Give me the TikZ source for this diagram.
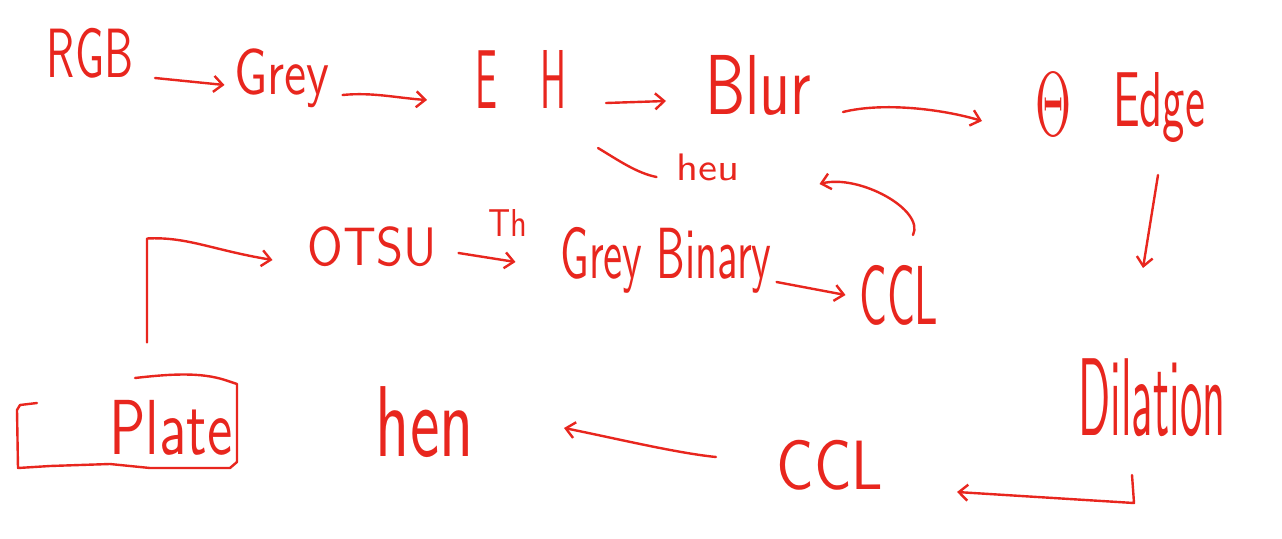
\documentclass[tikz,border=0pt]{standalone}
\usetikzlibrary{arrows.meta,calc}
\definecolor{pen}{RGB}{232,38,30}
\newcommand{\hw}[3]{\resizebox*{#1pt}{#2pt}{\sffamily #3}}
\begin{document}
\begin{tikzpicture}[x=1pt,y=-1pt,
  lbl/.style={inner sep=0pt,outer sep=0pt,text=pen},
  arr/.style={draw=pen,line width=2.4pt,line cap=round,line join=round,-{Straight Barb[length=9pt,width=16pt,line width=2.4pt]}},
  ln/.style={draw=pen,line width=2.4pt,line cap=round,line join=round}]
\fill[white] (0,0) rectangle (1282,538);
\useasboundingbox (0,0) rectangle (1282,538);
% top row
\node[lbl] (rgb) at (90,53) {\hw{86}{50}{RGB}};
\node[lbl] (grey) at (282,78) {\hw{95}{59}{Grey}};
\node[lbl] (eh) at (521,79) {\hw{92}{58}{E\hspace{1.2em}H}};
\node[lbl] (blur) at (758,85) {\hw{106}{60}{Blur}};
\node[lbl] (theta) at (1053,104) {\resizebox*{36pt}{62pt}{$\Theta$}};
\node[lbl] (edge) at (1159,108) {\hw{92}{70}{Edge}};
\node[lbl] (heu) at (708,167) {\hw{63}{27}{heu}};
% middle row
\node[lbl] (otsu) at (372,247) {\hw{129}{40}{OTSU}};
\node[lbl] (th) at (508,223) {\hw{39}{27}{Th}};
\node[lbl] (gb) at (666,260) {\hw{211}{66}{Grey Binary}};
\node[lbl] (ccla) at (899,295) {\hw{79}{60}{CCL}};
% bottom row
\node[lbl] (plate) at (171,428) {\hw{123}{55}{Plate}};
\node[lbl] (hen) at (425,422) {\hw{98}{71}{hen}};
\node[lbl] (cclb) at (830,465) {\hw{106}{50}{CCL}};
\node[lbl] (dil) at (1152,398) {\hw{147}{78}{Dilation}};
% box around Plate
\draw[ln] (135,378) .. controls (170,374) and (200,372) .. (225,380) -- (237,384) -- (237,462) -- (230,468) -- (150,468) -- (110,464) -- (50,466) -- (18,468) -- (17,410) -- (20,405) -- (37,403);
% connectors
\draw[arr] ($(rgb.east)+(22,25)$) -- ($(grey.west)+(-10,7)$);
\draw[arr] ($(grey.east)+(13,17)$) .. controls ++(30,-3) and ++(-30,-2) .. ($(eh.west)+(-48,21)$);
\draw[arr] ($(eh.east)+(39,24)$) -- ($(blur.west)+(-39,16)$);
\draw[arr] ($(blur.east)+(32,27)$) .. controls ++(40,-10) and ++(-40,-12) .. ($(theta.west)+(-53,17)$);
\draw[arr] ($(edge.south)+(-1,32)$) -- ($(dil.north)+(-9,-91)$);
\draw[arr] ($(dil.south)+(-20,38)$) -- ++(2,28) -- ($(cclb.east)+(74,27)$);
\draw[arr] ($(cclb.west)+(-61,-8)$) .. controls ++(-40,-4) and ++(50,10) .. ($(hen.east)+(90,6)$);
\draw[arr] ($(plate.north)+(-24,-58)$) -- ++(0,-104) .. controls ++(40,-2) and ++(-60,-10) .. ($(otsu.west)+(-35,13)$);
\draw[arr] ($(otsu.east)+(22,6)$) -- ($(gb.west)+(-45,2)$);
\draw[arr] ($(gb.east)+(5,22)$) -- ($(ccla.west)+(-14,0)$);
\draw[arr] ($(ccla.north)+(14,-30)$) .. controls ++(12,-25) and ++(40,-10) .. ($(heu.east)+(80,17)$);
\draw[ln] ($(heu.west)+(-20,10)$) .. controls ++(-20,-4) and ++(20,12) .. ($(eh.south)+(77,40)$);
\end{tikzpicture}
\end{document}
